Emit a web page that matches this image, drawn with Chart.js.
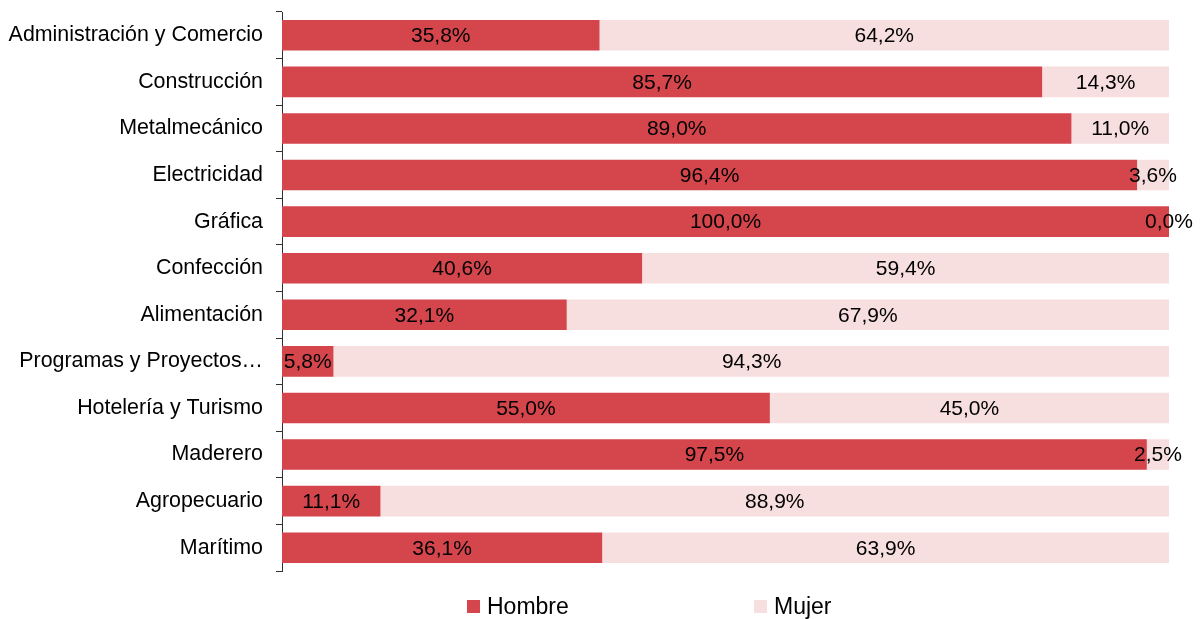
<!DOCTYPE html>
<html>
<head>
<meta charset="utf-8">
<script src="https://cdn.jsdelivr.net/npm/chart.js@4/dist/chart.umd.min.js"></script>
<style>
  html, body { margin: 0; padding: 0; background: #fff; }
  #wrap { position: relative; width: 1200px; height: 619px; }
  #legend { position: absolute; left: 0; top: 0; width: 1200px; height: 619px; pointer-events: none;
            font-family: "Liberation Sans", Arial, sans-serif; font-size: 23px; color: #000; }
  .item { position: absolute; top: 593px; display: flex; align-items: center; white-space: nowrap; }
  .sw { width: 13px; height: 13px; margin-right: 7px; }
</style>
</head>
<body>
<div id="wrap">
  <canvas id="c" width="1200" height="619"></canvas>
  <div id="legend"></div>
</div>
<script>
const categories = [
  "Administración y Comercio", "Construcción", "Metalmecánico", "Electricidad",
  "Gráfica", "Confección", "Alimentación", "Programas y Proyectos…",
  "Hotelería y Turismo", "Maderero", "Agropecuario", "Marítimo"
];
const seriesNames = ["Hombre", "Mujer"];
const hombre = [35.8, 85.7, 89.0, 96.4, 100.0, 40.6, 32.1, 5.8, 55.0, 97.5, 11.1, 36.1];
const mujer  = [64.2, 14.3, 11.0, 3.6, 0.0, 59.4, 67.9, 94.3, 45.0, 2.5, 88.9, 63.9];
const colors = ["#D4454C", "#F7DEDF"];

const FONT = '"Liberation Sans", Arial, sans-serif';

const valueLabels = {
  id: 'valueLabels',
  afterDatasetsDraw(chart) {
    const ctx = chart.ctx;
    ctx.save();
    ctx.font = '21px ' + FONT;
    ctx.fillStyle = '#000';
    ctx.textAlign = 'center';
    ctx.textBaseline = 'middle';
    chart.data.datasets.forEach((ds, di) => {
      const meta = chart.getDatasetMeta(di);
      meta.data.forEach((bar, i) => {
        const v = ds.data[i];
        const p = bar.getProps(['x', 'y', 'base'], true);
        const cx = (p.x + p.base) / 2;
        ctx.fillText(v.toFixed(1).replace('.', ',') + '%', cx, p.y + 1);
      });
    });
    ctx.restore();
  }
};

const chart = new Chart(document.getElementById('c'), {
  type: 'bar',
  data: {
    labels: categories,
    datasets: [
      { label: seriesNames[0], data: hombre, backgroundColor: colors[0] },
      { label: seriesNames[1], data: mujer, backgroundColor: colors[1] }
    ]
  },
  options: {
    indexAxis: 'y',
    responsive: false,
    animation: false,
    events: [],
    layout: { padding: { top: 12, right: 31, bottom: 48, left: 0 } },
    datasets: { bar: { categoryPercentage: 1, barPercentage: 0.655 } },
    plugins: { legend: { display: false }, tooltip: { enabled: false } },
    scales: {
      x: { stacked: true, min: 0, max: 100, display: false },
      y: {
        stacked: true,
        afterFit(scale) { scale.width = 282; scale.paddingTop = 0; scale.paddingBottom = 0; },
        border: { display: true, color: '#303030', width: 1 },
        grid: { offset: true, drawOnChartArea: false, drawTicks: true, tickLength: 6, color: '#303030' },
        ticks: { color: '#000', padding: 13, font: { family: FONT, size: 21.4 }, autoSkip: false }
      }
    }
  },
  plugins: [valueLabels]
});

// HTML legend built from the dataset definitions
const legend = document.getElementById('legend');
const legendLefts = [467, 754];
chart.data.datasets.forEach((ds, i) => {
  const it = document.createElement('div');
  it.className = 'item';
  it.style.left = legendLefts[i] + 'px';
  const sw = document.createElement('span');
  sw.className = 'sw';
  sw.style.background = ds.backgroundColor;
  const tx = document.createElement('span');
  tx.textContent = ds.label;
  it.appendChild(sw); it.appendChild(tx);
  legend.appendChild(it);
});
</script>
</body>
</html>
